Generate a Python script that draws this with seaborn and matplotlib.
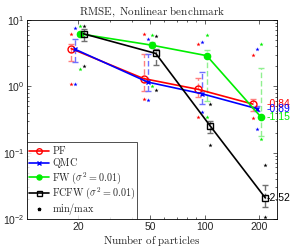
import numpy as np
import pandas as pd
import matplotlib
matplotlib.use("Agg")
import matplotlib.pyplot as plt
import matplotlib.ticker as mticker
import seaborn as sns

# ---- data ----
N = [20, 50, 100, 200]
series_names = ["PF", "QMC", "FW", "FCFW"]
pf_mean = [3.7, 1.31, 0.90, 0.54]
qmc_mean = [3.6, 1.16, 0.77, 0.46]
fw_mean = [6.2, 4.17, 2.9, 0.34]
fcfw_mean = [6.2, 3.13, 0.25, 0.021]

pf_lo = [2.4, 0.86, 0.70, 0.43]
pf_hi = [4.3, 3.1, 1.32, 0.64]
qmc_lo = [2.3, 0.86, 0.55, 0.42]
qmc_hi = [5.1, 3.1, 1.66, 0.50]
fw_lo = [5.8, 3.9, 0.6, 0.18]
fw_hi = [6.6, 4.6, 3.5, 1.9]
fcfw_lo = [4.8, 2.07, 0.196, 0.015]
fcfw_hi = [7.2, 3.6, 0.30, 0.032]

pf_max = [6.2, 6.2, 4.3, 3.0]
pf_min = [1.07, 0.65, 0.35, 0.33]
qmc_max = [7.6, 5.2, 4.7, 3.7]
qmc_min = [1.1, 0.62, 0.41, 0.225]
fw_max = [8.1, 6.0, 5.9, 4.4]
fw_min = [1.85, 1.0, 0.35, 0.16]
fcfw_max = [8.1, 5.8, 0.55, 0.065]
fcfw_min = [2.0, 0.88, 0.13, 0.0107]

slope_labels = ["-0.84", "-0.89", "-1.15", "-2.52"]
xticks = [20, 50, 100, 200]
legend_labels = [r"$\mathrm{PF}$", r"$\mathrm{QMC}$",
                 r"$\mathrm{FW}\ (\sigma^2=0.01)$",
                 r"$\mathrm{FCFW}\ (\sigma^2=0.01)$"]

# ---- style ----
sns.set_style("ticks")
plt.rcParams["font.family"] = ["Liberation Sans", "DejaVu Sans"]
plt.rcParams["mathtext.fontset"] = "cm"

fig = plt.figure(figsize=(2.99, 2.48), dpi=100)
ax = fig.add_axes([27 / 299, 1 - 219 / 248, 250 / 299, 199 / 248])
ax.set_xscale("log")
ax.set_yscale("log")

colors = ["#ff0000", "#0000ff", "#00ee00", "#000000"]
err_colors = ["#ff8080", "#7070ff", "#90f090", "#707070"]
markers = ["o", "x", "o", "s"]
mfc = ["none", "#0000ff", "#00ee00", "none"]
msz = [5, 3.5, 4.5, 4.5]
offsets = [0.92, 0.97, 1.025, 1.075]

means = [pf_mean, qmc_mean, fw_mean, fcfw_mean]
los = [pf_lo, qmc_lo, fw_lo, fcfw_lo]
his = [pf_hi, qmc_hi, fw_hi, fcfw_hi]
maxs = [pf_max, qmc_max, fw_max, fcfw_max]
mins = [pf_min, qmc_min, fw_min, fcfw_min]

for i, name in enumerate(series_names):
    xs = np.array(N) * offsets[i]
    m = np.array(means[i])
    lo = np.array(los[i])
    hi = np.array(his[i])
    eb = ax.errorbar(xs, m, yerr=[m - lo, hi - m], fmt="none",
                     ecolor=err_colors[i], elinewidth=1.0, capsize=2.5,
                     capthick=1.0, zorder=2)
    eb[2][0].set_linestyle((0, (4, 2)))
    df = pd.DataFrame({"x": xs, "y": m})
    sns.lineplot(data=df, x="x", y="y", ax=ax, color=colors[i],
                 marker=markers[i], markersize=msz[i],
                 markerfacecolor=mfc[i], markeredgecolor=colors[i],
                 markeredgewidth=1.0, linewidth=1.2, sort=False,
                 zorder=4, label=legend_labels[i])
    mm = pd.DataFrame({"x": np.concatenate([xs, xs]),
                       "y": np.concatenate([maxs[i], mins[i]])})
    sns.scatterplot(data=mm, x="x", y="y", ax=ax, marker="*",
                    color=colors[i], s=10, linewidth=0, zorder=3)
    ax.text(218, m[-1], slope_labels[i], color=colors[i], fontsize=7.5,
            ha="left", va="center")

# legend entry for min/max
ax.plot([], [], "*", color="k", markersize=3, label=r"$\mathrm{min/max}$")

ax.set_xlim(10.5, 250)
ax.set_ylim(1e-2, 1e1)
ax.set_xticks(xticks)
ax.xaxis.set_major_formatter(mticker.FixedFormatter([str(t) for t in xticks]))
ax.xaxis.set_minor_locator(mticker.LogLocator(base=10, subs=np.arange(2, 10)))
ax.xaxis.set_minor_formatter(mticker.NullFormatter())
ax.yaxis.set_minor_locator(mticker.LogLocator(base=10, subs=np.arange(2, 10)))
ax.yaxis.set_minor_formatter(mticker.NullFormatter())
ax.tick_params(which="both", direction="in", top=True, right=True,
               labelsize=7.5, width=0.5, pad=2)
ax.tick_params(which="major", length=3)
ax.tick_params(which="minor", length=1.5)
for s in ax.spines.values():
    s.set_linewidth(0.6)
    s.set_color("black")

ax.set_title(r"$\mathrm{RMSE,\ Nonlinear\ benchmark}$", fontsize=8, pad=4)
ax.set_xlabel(r"$\mathrm{Number\ of\ particles}$", fontsize=8, labelpad=1)
ax.set_ylabel("")

leg = ax.legend(loc="lower left", borderaxespad=0, fontsize=7.3,
                frameon=True, fancybox=False, edgecolor="black",
                handlelength=2.0, handletextpad=0.3, labelspacing=0.0,
                handleheight=0.5, borderpad=0.15, markerscale=0.8)
leg.get_frame().set_linewidth(0.6)

fig.savefig("out.png", dpi=100)
